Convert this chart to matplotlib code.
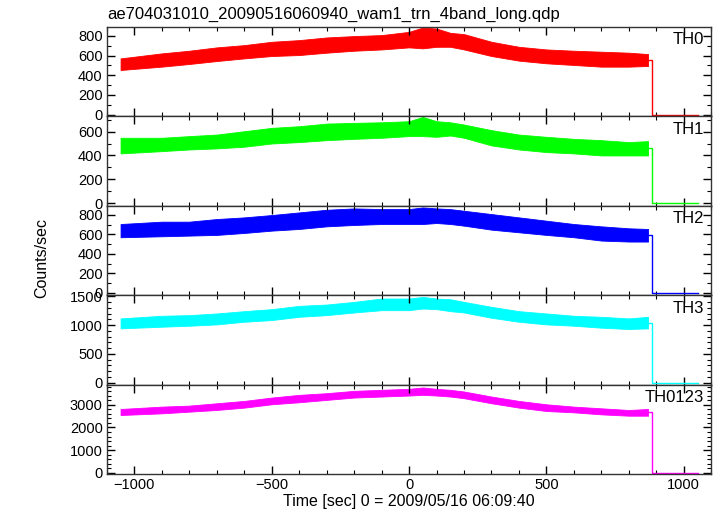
import numpy as np
import matplotlib
matplotlib.use("Agg")
import matplotlib.pyplot as plt
from matplotlib.ticker import MultipleLocator

plt.rcParams['font.family'] = ['Liberation Sans', 'DejaVu Sans']

# time grid (sec) where the envelope of each light curve was read
t = [-1050, -900, -800, -700, -600, -500, -400, -300, -200, -100,
     0, 50, 100, 150, 200, 300, 400, 500, 600, 700, 800, 870]
t_off = [885, 1050]   # after the drop, rate ~ 0

th0_hi = [572, 623, 650, 684, 707, 741, 758, 785, 799, 809, 842, 886, 876, 832, 819, 741, 690, 663, 650, 640, 630, 616]
th0_lo = [454, 488, 515, 545, 572, 596, 606, 630, 650, 663, 684, 674, 690, 690, 663, 596, 549, 522, 505, 488, 488, 495]
th1_hi = [548, 548, 562, 575, 603, 631, 645, 667, 673, 678, 687, 723, 687, 678, 659, 612, 575, 556, 539, 528, 512, 520]
th1_lo = [417, 436, 450, 459, 473, 500, 512, 528, 539, 548, 562, 562, 556, 567, 548, 484, 450, 428, 417, 400, 400, 400]
th2_hi = [707, 731, 731, 758, 775, 799, 826, 853, 867, 860, 860, 877, 867, 860, 843, 809, 775, 741, 707, 683, 663, 656]
th2_lo = [571, 581, 588, 595, 615, 639, 656, 683, 697, 707, 707, 707, 717, 707, 690, 649, 622, 595, 571, 537, 527, 527]
th3_hi = [1116, 1162, 1173, 1202, 1242, 1277, 1334, 1357, 1403, 1461, 1461, 1489, 1461, 1449, 1403, 1317, 1242, 1202, 1162, 1144, 1116, 1144]
th3_lo = [943, 972, 989, 1012, 1058, 1087, 1144, 1173, 1219, 1259, 1259, 1288, 1277, 1242, 1219, 1127, 1058, 1012, 989, 955, 932, 943]
tha_hi = [2812, 2916, 2960, 3064, 3167, 3315, 3434, 3508, 3611, 3656, 3700, 3759, 3700, 3656, 3582, 3360, 3167, 3019, 2916, 2842, 2768, 2812]
tha_lo = [2546, 2620, 2694, 2768, 2871, 3019, 3108, 3212, 3315, 3360, 3404, 3434, 3404, 3360, 3286, 3064, 2871, 2723, 2664, 2575, 2516, 2516]

names = ['TH0', 'TH1', 'TH2', 'TH3', 'TH0123']
colors = ['#ff0000', '#00ff00', '#0000ff', '#00ffff', '#ff00ff']
his = [th0_hi, th1_hi, th2_hi, th3_hi, tha_hi]
los = [th0_lo, th1_lo, th2_lo, th3_lo, tha_lo]
ylims = [(-17, 893), (-22, 728), (-24, 894), (-35, 1518), (-60, 3880)]
majors = [200, 200, 200, 500, 1000]
minors = [100, 100, 100, 100, 200]

fig, axes = plt.subplots(5, 1, sharex=True, figsize=(7.17, 5.16), dpi=100)
plt.subplots_adjust(left=0.149, right=0.992, top=0.948, bottom=0.081, hspace=0)

for i, ax in enumerate(axes):
    hi = np.array(his[i])
    lo = np.array(los[i])
    c = colors[i]
    ax.fill_between(t, lo, hi, color=c, linewidth=0.6)
    mid = (hi[-1] + lo[-1]) / 2.0
    ax.plot([t[-1], t_off[0], t_off[0], t_off[1]], [mid, mid, 0, 0], color=c, lw=1.0)
    ax.set_xlim(-1100, 1100)
    ax.set_ylim(*ylims[i])
    ax.yaxis.set_major_locator(MultipleLocator(majors[i]))
    ax.yaxis.set_minor_locator(MultipleLocator(minors[i]))
    ax.xaxis.set_major_locator(MultipleLocator(500))
    ax.xaxis.set_minor_locator(MultipleLocator(100))
    ax.tick_params(which='both', direction='in', top=True, right=True, labelsize=10.5, pad=3)
    ax.tick_params(which='major', length=6, width=1)
    ax.tick_params(which='minor', length=3, width=0.8)
    for s in ax.spines.values():
        s.set_linewidth(1.0)
        s.set_color('#333333')
    ax.text(0.988, 0.94, names[i], transform=ax.transAxes, ha='right', va='top', fontsize=12)

axes[-1].set_xlabel('Time [sec] 0 = 2009/05/16 06:09:40', fontsize=11.5, labelpad=1)
fig.text(0.058, 0.5, 'Counts/sec', rotation=90, ha='center', va='center', fontsize=11.5)
fig.text(0.149, 0.972, 'ae704031010_20090516060940_wam1_trn_4band_long.qdp',
         ha='left', va='center', fontsize=12)

fig.savefig('out.png', dpi=100)
